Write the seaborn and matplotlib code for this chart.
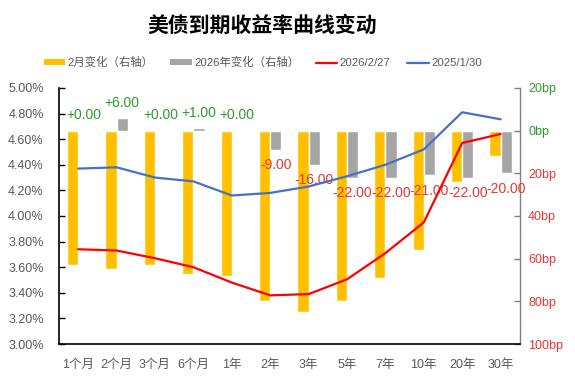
import numpy as np
import pandas as pd
import matplotlib
matplotlib.use("Agg")
import matplotlib.pyplot as plt
import seaborn as sns
from matplotlib.ticker import FixedLocator, FuncFormatter
from matplotlib.lines import Line2D
from matplotlib.patches import Patch

sns.set_theme(style="white")
plt.rcParams['font.family'] = ['Liberation Sans', 'Noto Sans CJK SC', 'DejaVu Sans']
plt.rcParams['axes.unicode_minus'] = False

categories = ["1个月", "2个月", "3个月", "6个月", "1年", "2年", "3年", "5年", "7年", "10年", "20年", "30年"]
yield_20260227 = [3.74, 3.73, 3.67, 3.60, 3.48, 3.38, 3.39, 3.505, 3.71, 3.95, 4.57, 4.64]
yield_20250130 = [4.37, 4.38, 4.30, 4.27, 4.16, 4.18, 4.23, 4.31, 4.40, 4.52, 4.81, 4.755]
change_feb = [-63, -65, -63, -67, -68, -80, -85, -80, -69, -56, -24, -12]
change_2026 = [0, 6, 0, 1, 0, -9, -16, -22, -22, -21, -22, -20]

c_yellow = "#FFC000"
c_gray = "#A5A5A5"
c_red = "#FF0000"
c_blue = "#4472C4"
c_green = "#2E9B2E"
c_redtxt = "#E83535"
c_tick = "#595959"

fig = plt.figure(figsize=(5.75, 3.79), dpi=100)
ax = fig.add_axes([0.1026, 0.0923, 0.904 - 0.1026, 0.768 - 0.0923])
ax2 = ax.twinx()

# Bars on right axis
bars_df = pd.DataFrame({
    "cat": categories * 2,
    "val": change_feb + change_2026,
    "series": ["2月变化（右轴）"] * 12 + ["2026年变化（右轴）"] * 12,
})
sns.barplot(data=bars_df, x="cat", y="val", hue="series", order=categories,
            palette=[c_yellow, c_gray], width=0.58, dodge=True, ax=ax2,
            legend=False, errorbar=None, saturation=1)

# Lines on left axis
lines_df = pd.DataFrame({
    "cat": categories * 2,
    "val": yield_20260227 + yield_20250130,
    "series": ["2026/2/27"] * 12 + ["2025/1/30"] * 12,
})
sns.lineplot(data=lines_df, x="cat", y="val", hue="series", palette=[c_red, c_blue],
             ax=ax, legend=False, linewidth=1.6, sort=False)

ax.set_zorder(ax2.get_zorder() + 1)
ax.patch.set_visible(False)

ax.set_xlim(-0.5, 11.5)
ax2.set_xlim(-0.5, 11.5)
ax.set_ylim(3.0, 5.0)
ax2.set_ylim(-100, 20)

# Left axis
ax.yaxis.set_major_locator(FixedLocator(np.arange(3.0, 5.001, 0.2)))
ax.yaxis.set_major_formatter(FuncFormatter(lambda v, p: f"{v:.2f}%"))
ax.tick_params(axis='y', direction='in', length=4, width=1, color='black',
               labelsize=9, labelcolor=c_tick, pad=11)
ax.set_xlabel("")
ax.set_ylabel("")
ax2.set_xlabel("")
ax2.set_ylabel("")

# x axis
ax.set_xticks(range(12))
ax.set_xticklabels(categories)
ax.tick_params(axis='x', which='major', length=0, labelsize=9, labelcolor=c_tick, pad=11)
ax.set_xticks(np.arange(-0.5, 12, 1), minor=True)
ax.tick_params(axis='x', which='minor', direction='out', length=4, width=1, color='black')
ax2.tick_params(axis='x', which='both', length=0, labelbottom=False)

# Right axis
rticks = list(range(-100, 21, 20))
ax2.yaxis.set_major_locator(FixedLocator(rticks))
ax2.yaxis.set_major_formatter(FuncFormatter(lambda v, p: f"{abs(int(round(v)))}bp"))
ax2.tick_params(axis='y', direction='in', length=4, width=1, color='#808080', labelsize=9, pad=6)
for lab, t in zip(ax2.get_yticklabels(), rticks):
    lab.set_color(c_green if t >= 0 else c_redtxt)

for s in ["top", "right"]:
    ax.spines[s].set_visible(False)
ax.spines["left"].set_color("black")
ax.spines["bottom"].set_color("black")
ax.spines["left"].set_linewidth(1.2)
ax.spines["bottom"].set_linewidth(1.2)
for s in ["top", "left", "bottom"]:
    ax2.spines[s].set_visible(False)
ax2.spines["right"].set_color("#808080")
ax2.spines["right"].set_linewidth(1.0)
ax.grid(False)
ax2.grid(False)

# Data labels for gray bars
for i, v in enumerate(change_2026):
    if v >= 0:
        txt, col, dy = f"+{v:.2f}", c_green, 11
    else:
        txt, col, dy = f"-{abs(v):.2f}", c_redtxt, -11
    ax2.annotate(txt, xy=(i + 0.145, v), xytext=(0, dy), textcoords="offset points",
                 ha="center", va="center", fontsize=10, color=col, zorder=5)

# Title
fig.text(0.456, 0.932, "美债到期收益率曲线变动", ha="center", va="center",
         fontsize=15, fontweight="bold", color="black")

# Legend
handles = [
    Patch(facecolor=c_yellow, edgecolor="none", label="2月变化（右轴）"),
    Patch(facecolor=c_gray, edgecolor="none", label="2026年变化（右轴）"),
    Line2D([0], [0], color=c_red, lw=1.6, label="2026/2/27"),
    Line2D([0], [0], color=c_blue, lw=1.6, label="2025/1/30"),
]
fig.legend(handles=handles, loc="center", bbox_to_anchor=(0.457, 0.835), ncol=4,
           frameon=False, fontsize=8.2, handlelength=1.9, handleheight=0.5,
           handletextpad=0.2, columnspacing=1.45, labelcolor=c_tick)

fig.savefig("out.png", dpi=100)
